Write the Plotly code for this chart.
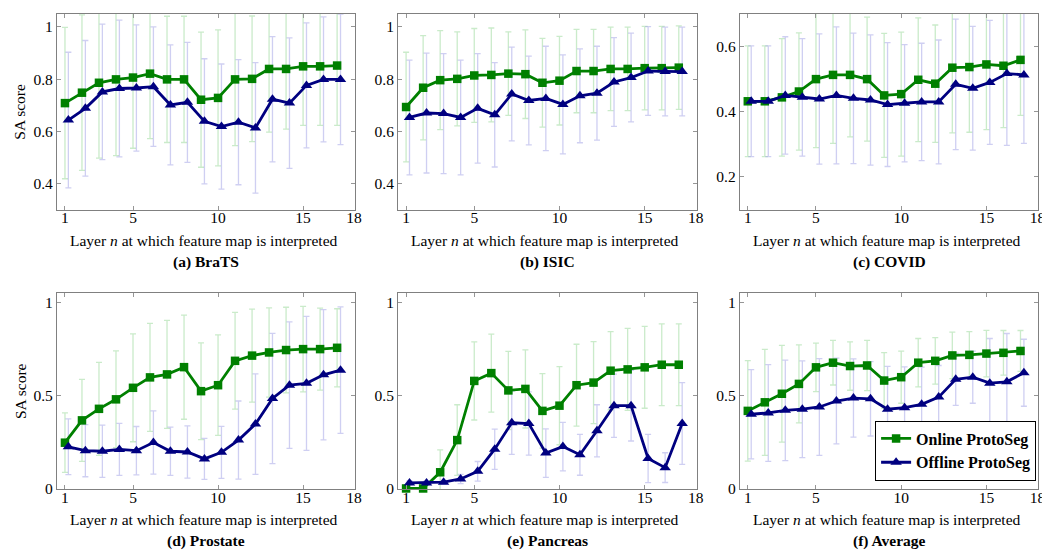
import plotly.graph_objects as go

layers = list(range(1, 18))
x_ticks = [1, 5, 10, 15, 18]

panels = ["(a) BraTS", "(b) ISIC", "(c) COVID", "(d) Prostate", "(e) Pancreas", "(f) Average"]

brats_on = [0.708, 0.748, 0.786, 0.799, 0.806, 0.821, 0.799, 0.799, 0.721, 0.728, 0.799, 0.801, 0.839, 0.839, 0.849, 0.849, 0.852]
brats_on_err = [0.29, 0.298, 0.289, 0.292, 0.271, 0.249, 0.242, 0.242, 0.259, 0.261, 0.254, 0.241, 0.242, 0.231, 0.226, 0.226, 0.229]
brats_off = [0.643, 0.688, 0.751, 0.764, 0.766, 0.771, 0.701, 0.711, 0.638, 0.618, 0.635, 0.613, 0.723, 0.708, 0.776, 0.799, 0.799]
brats_off_err = [0.26, 0.26, 0.26, 0.262, 0.242, 0.229, 0.23, 0.23, 0.24, 0.24, 0.24, 0.25, 0.24, 0.25, 0.24, 0.24, 0.25]

isic_on = [0.693, 0.767, 0.796, 0.801, 0.814, 0.816, 0.821, 0.819, 0.786, 0.794, 0.831, 0.831, 0.839, 0.839, 0.842, 0.842, 0.844]
isic_on_err = [0.21, 0.2, 0.19, 0.18, 0.18, 0.18, 0.16, 0.17, 0.17, 0.17, 0.16, 0.16, 0.16, 0.16, 0.16, 0.16, 0.16]
isic_off = [0.653, 0.67, 0.668, 0.653, 0.688, 0.663, 0.743, 0.718, 0.726, 0.703, 0.736, 0.746, 0.789, 0.806, 0.831, 0.829, 0.829]
isic_off_err = [0.22, 0.23, 0.23, 0.22, 0.21, 0.2, 0.18, 0.17, 0.2, 0.19, 0.18, 0.18, 0.17, 0.17, 0.17, 0.17, 0.17]

covid_on = [0.432, 0.432, 0.444, 0.462, 0.5, 0.513, 0.513, 0.5, 0.45, 0.454, 0.498, 0.486, 0.535, 0.537, 0.545, 0.541, 0.559]
covid_on_err = [0.17, 0.17, 0.18, 0.18, 0.21, 0.21, 0.19, 0.19, 0.19, 0.19, 0.19, 0.18, 0.2, 0.2, 0.2, 0.19, 0.17]
covid_off = [0.432, 0.432, 0.45, 0.444, 0.439, 0.45, 0.441, 0.436, 0.422, 0.426, 0.43, 0.43, 0.484, 0.472, 0.49, 0.517, 0.513]
covid_off_err = [0.17, 0.17, 0.18, 0.18, 0.2, 0.21, 0.2, 0.2, 0.19, 0.18, 0.18, 0.19, 0.2, 0.19, 0.19, 0.22, 0.21]

prostate_on = [0.246, 0.366, 0.428, 0.479, 0.541, 0.597, 0.613, 0.652, 0.523, 0.555, 0.686, 0.714, 0.731, 0.744, 0.749, 0.749, 0.756]
prostate_on_err = [0.16, 0.22, 0.25, 0.26, 0.29, 0.29, 0.29, 0.28, 0.26, 0.27, 0.26, 0.25, 0.24, 0.23, 0.23, 0.22, 0.21]
prostate_off = [0.224, 0.203, 0.2, 0.21, 0.203, 0.247, 0.2, 0.196, 0.159, 0.194, 0.26, 0.346, 0.484, 0.555, 0.565, 0.611, 0.636]
prostate_off_err = [0.15, 0.14, 0.14, 0.14, 0.13, 0.17, 0.13, 0.14, 0.11, 0.14, 0.21, 0.27, 0.35, 0.34, 0.36, 0.35, 0.34]

pancreas_on = [0.0, 0.0, 0.087, 0.26, 0.578, 0.62, 0.527, 0.535, 0.417, 0.445, 0.555, 0.569, 0.633, 0.64, 0.651, 0.665, 0.665]
pancreas_on_err = [0.0, 0.0, 0.12, 0.19, 0.21, 0.21, 0.21, 0.21, 0.2, 0.21, 0.22, 0.22, 0.21, 0.22, 0.22, 0.22, 0.22]
pancreas_off = [0.03, 0.03, 0.034, 0.051, 0.092, 0.211, 0.353, 0.349, 0.19, 0.225, 0.181, 0.31, 0.445, 0.445, 0.161, 0.112, 0.349]
pancreas_off_err = [0.01, 0.01, 0.01, 0.025, 0.053, 0.108, 0.17, 0.17, 0.13, 0.13, 0.11, 0.14, 0.17, 0.19, 0.13, 0.08, 0.22]

avg_on = [0.417, 0.463, 0.509, 0.562, 0.651, 0.676, 0.658, 0.661, 0.58, 0.598, 0.676, 0.686, 0.715, 0.718, 0.725, 0.729, 0.739]
avg_on_err = [0.27, 0.285, 0.26, 0.21, 0.13, 0.12, 0.13, 0.135, 0.15, 0.14, 0.13, 0.125, 0.125, 0.125, 0.125, 0.12, 0.11]
avg_off = [0.399, 0.406, 0.42, 0.426, 0.438, 0.47, 0.486, 0.482, 0.426, 0.434, 0.452, 0.491, 0.587, 0.598, 0.566, 0.573, 0.622]
avg_off_err = [0.24, 0.26, 0.27, 0.26, 0.26, 0.23, 0.21, 0.2, 0.23, 0.22, 0.2, 0.17, 0.14, 0.14, 0.24, 0.26, 0.18]

series = [
    (brats_on, brats_on_err, brats_off, brats_off_err),
    (isic_on, isic_on_err, isic_off, isic_off_err),
    (covid_on, covid_on_err, covid_off, covid_off_err),
    (prostate_on, prostate_on_err, prostate_off, prostate_off_err),
    (pancreas_on, pancreas_on_err, pancreas_off, pancreas_off_err),
    (avg_on, avg_on_err, avg_off, avg_off_err),
]

y_ranges = [[0.3, 1.05], [0.3, 1.05], [0.1, 0.7], [-0.004, 1.05], [-0.004, 1.05], [-0.004, 1.05]]
y_tickvals = [[0.4, 0.6, 0.8, 1], [0.4, 0.6, 0.8, 1], [0.2, 0.4, 0.6], [0, 0.5, 1], [0, 0.5, 1], [0, 0.5, 1]]
y_ticktext = [["0.4", "0.6", "0.8", "1"], ["0.4", "0.6", "0.8", "1"], ["0.2", "0.4", "0.6"],
              ["0", "0.5", "1"], ["0", "0.5", "1"], ["0", "0.5", "1"]]

W, H = 1050, 551
col_px = [(49.3, 349.3), (392.7, 693.3), (736.7, 1037.3)]
row_px = [(6.0, 204.5), (289.3, 488.3)]

GREEN = "rgb(0,128,0)"
NAVY = "rgb(0,0,128)"
GREEN_ERR = "rgba(150,215,150,0.5)"
BLUE_ERR = "rgba(160,160,230,0.5)"
FONT = "Liberation Serif"
FS = 15.5

fig = go.Figure()
layout = dict(
    width=W, height=H,
    margin=dict(l=0, r=0, t=0, b=0),
    paper_bgcolor="white", plot_bgcolor="white",
    showlegend=True,
    font=dict(family=FONT, size=FS, color="black"),
)
annotations = []

for i in range(6):
    r, c = divmod(i, 3)
    xs = "" if i == 0 else str(i + 1)
    xa, ya = "x" + xs, "y" + xs
    x0, x1 = col_px[c]
    top, bot = row_px[r]
    on, on_err, off, off_err = series[i]
    off_x = [v + 0.2 for v in layers]

    fig.add_trace(go.Scatter(x=layers, y=on, mode="markers", marker=dict(opacity=0, size=1),
                             error_y=dict(type="data", array=on_err, color=GREEN_ERR, thickness=1.3, width=3),
                             showlegend=False, hoverinfo="skip", xaxis=xa, yaxis=ya))
    fig.add_trace(go.Scatter(x=off_x, y=off, mode="markers", marker=dict(opacity=0, size=1),
                             error_y=dict(type="data", array=off_err, color=BLUE_ERR, thickness=1.3, width=3),
                             showlegend=False, hoverinfo="skip", xaxis=xa, yaxis=ya))
    fig.add_trace(go.Scatter(x=layers, y=on, mode="lines+markers", name="Online ProtoSeg",
                             line=dict(color=GREEN, width=2.8),
                             marker=dict(symbol="square", size=8.5, color=GREEN),
                             cliponaxis=False, showlegend=(i == 5), xaxis=xa, yaxis=ya))
    fig.add_trace(go.Scatter(x=off_x, y=off, mode="lines+markers", name="Offline ProtoSeg",
                             line=dict(color=NAVY, width=2.8),
                             marker=dict(symbol="triangle-up", size=10, color=NAVY),
                             cliponaxis=False, showlegend=(i == 5), xaxis=xa, yaxis=ya))

    axis_common = dict(showline=True, linecolor="rgb(128,128,128)", linewidth=1, mirror="ticks",
                       ticks="inside", ticklen=4, tickcolor="rgb(150,150,150)", showgrid=False,
                       zeroline=False, tickfont=dict(family=FONT, size=FS, color="black"))
    layout["xaxis" + xs] = dict(domain=[x0 / W, x1 / W], range=[0.53, 18.05], anchor=ya,
                                tickvals=x_ticks, ticktext=[str(t) for t in x_ticks],
                                ticklabelstandoff=-6, **axis_common)
    layout["yaxis" + xs] = dict(domain=[1 - bot / H, 1 - top / H], range=y_ranges[i], anchor=xa,
                                tickvals=y_tickvals[i], ticktext=y_ticktext[i], **axis_common)

    xc = (x0 + x1) / 2 / W
    annotations.append(dict(text="Layer <i>n</i> at which feature map is interpreted", x=(x0 + x1 - 4) / 2 / W,
                            y=1 - (bot + 31) / H, xref="paper", yref="paper", showarrow=False,
                            xanchor="center", yanchor="middle", font=dict(family=FONT, size=FS)))
    annotations.append(dict(text="<b>" + panels[i] + "</b>", x=xc, y=1 - (bot + 53) / H,
                            xref="paper", yref="paper", showarrow=False,
                            xanchor="center", yanchor="middle", font=dict(family=FONT, size=15.5)))
    if c == 0:
        annotations.append(dict(text="SA score", x=12 / W, y=1 - (top + bot) / 2 / H,
                                xref="paper", yref="paper", showarrow=False, textangle=-90,
                                xanchor="center", yanchor="middle", font=dict(family=FONT, size=FS)))

layout["annotations"] = annotations
layout["legend"] = dict(x=1035 / W, y=1 - 479.5 / H, xanchor="right", yanchor="bottom",
                        bgcolor="white", bordercolor="black", borderwidth=1,
                        font=dict(family=FONT, size=16, weight="bold"),
                        tracegroupgap=0, itemwidth=30)
fig.update_layout(**layout)
fig.write_html("out.html")
